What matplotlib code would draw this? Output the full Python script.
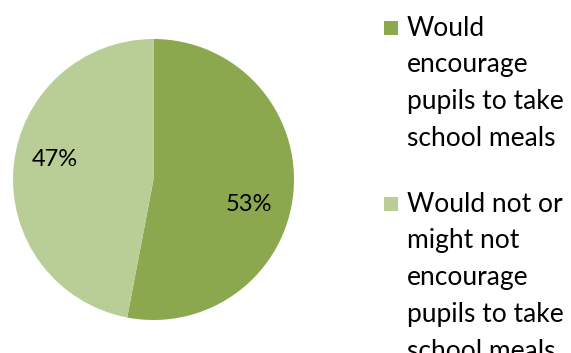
import matplotlib.pyplot as plt
from matplotlib.patches import Rectangle

# 응답 비율
labels = ['Would encourage pupils to take school meals',
          'Would not or might not encourage pupils to take school meals']
legend_lines = [['Would', 'encourage', 'pupils to take', 'school meals'],
                ['Would not or', 'might not', 'encourage', 'pupils to take', 'school meals']]
values = [53, 47]
colors = ['#8BA84F', '#B9CE96']

plt.rcParams['font.family'] = ['Lato', 'DejaVu Sans']

W, H = 571, 353
fig = plt.figure(figsize=(W / 100, H / 100), dpi=100)

# 원그래프
ax = fig.add_axes([13 / W, 1 - 320 / H, 281 / W, 281 / H])
wedges, texts, autotexts = ax.pie(values, colors=colors, startangle=90, counterclock=False,
                                  autopct=lambda p: '%d%%' % round(p), pctdistance=0.7,
                                  wedgeprops=dict(linewidth=0),
                                  textprops=dict(fontsize=17, color='black'))
ax.set_xlim(-1, 1)
ax.set_ylim(-1, 1)
ax.set_aspect('equal')
autotexts[0].set_position((0.68, -0.18))
autotexts[1].set_position((-0.70, 0.14))

# 범례 (직접 그림)
y_top = [28, 204]
line_h = 36.8
for i, lines in enumerate(legend_lines):
    y0 = y_top[i]
    fig.patches.append(Rectangle((384 / W, 1 - (y0 + 7) / H), 14 / W, 14 / H,
                                 transform=fig.transFigure, facecolor=colors[i],
                                 edgecolor='none'))
    for j, t in enumerate(lines):
        fig.text(407 / W, 1 - (y0 + j * line_h) / H, t, fontsize=19,
                 va='center', ha='left', color='black')

fig.savefig('out.png', dpi=100)
